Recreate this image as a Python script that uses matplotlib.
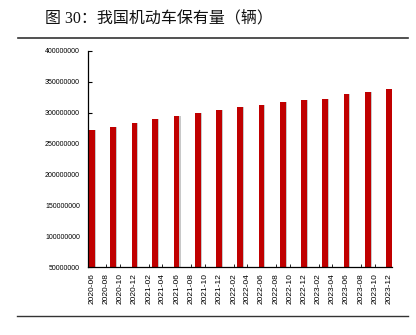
import matplotlib
matplotlib.use("Agg")
import matplotlib.pyplot as plt
import matplotlib.dates as mdates
from matplotlib.lines import Line2D
import pandas as pd

# data
dates = ["2020-06", "2020-09", "2020-12", "2021-03", "2021-06", "2021-09", "2021-12",
         "2022-03", "2022-06", "2022-09", "2022-12", "2023-03", "2023-06", "2023-09", "2023-12"]
values = [272.0e6, 277.5e6, 283.5e6, 289.5e6, 294.5e6, 299.5e6, 305.0e6,
          310.0e6, 313.0e6, 318.0e6, 321.5e6, 323.0e6, 331.0e6, 333.0e6, 338.5e6]
yticks = [50000000, 100000000, 150000000, 200000000, 250000000,
          300000000, 350000000, 400000000]
title = "图 30：我国机动车保有量（辆）"

W, H = 416, 335
fig = plt.figure(figsize=(W / 100, H / 100), dpi=100)
fig.patch.set_facecolor("white")

ax = fig.add_axes([88.3 / W, 1 - 267.3 / H, (392 - 88.3) / W, (267.3 - 51) / H])

x = pd.to_datetime(dates)
shadow = x + pd.Timedelta(days=5)
ax.bar(shadow, values, width=24, color="#c8c8c8", zorder=1, linewidth=0)
ax.bar(x, values, width=24, color="#C00000", zorder=2, linewidth=0)

ax.set_ylim(yticks[0], yticks[-1])
ax.set_yticks(yticks)
ax.set_yticklabels([str(v) for v in yticks], fontsize=5, family="Liberation Sans")
ax.set_xlim(pd.Timestamp("2020-06-01") - pd.Timedelta(days=15),
            pd.Timestamp("2023-12-01") + pd.Timedelta(days=13))
ax.xaxis.set_major_locator(mdates.MonthLocator(bymonth=[2, 4, 6, 8, 10, 12]))
ax.xaxis.set_major_formatter(mdates.DateFormatter("%Y-%m"))
for lbl in ax.get_xticklabels():
    lbl.set_rotation(90)
    lbl.set_fontsize(6)
    lbl.set_family("Liberation Sans")

ax.tick_params(axis="y", direction="in", length=3, width=0.8, pad=6, colors="black")
ax.tick_params(axis="x", direction="in", length=2, width=0.6, pad=4, colors="black")
for s in ["top", "right"]:
    ax.spines[s].set_visible(False)
for s in ["left", "bottom"]:
    ax.spines[s].set_linewidth(0.9)

fig.text(45 / W, 1 - 18.5 / H, title, fontsize=11.5, va="center", ha="left",
         family=["Liberation Serif", "Noto Sans CJK SC"], color="#111111")

fig.add_artist(Line2D([18 / W, 408 / W], [1 - 38 / H, 1 - 38 / H],
                      color="#333333", linewidth=1.2, transform=fig.transFigure))
fig.add_artist(Line2D([17 / W, 408 / W], [1 - 315.5 / H, 1 - 315.5 / H],
                      color="#333333", linewidth=1.0, transform=fig.transFigure))

fig.savefig("out.png", dpi=100)
